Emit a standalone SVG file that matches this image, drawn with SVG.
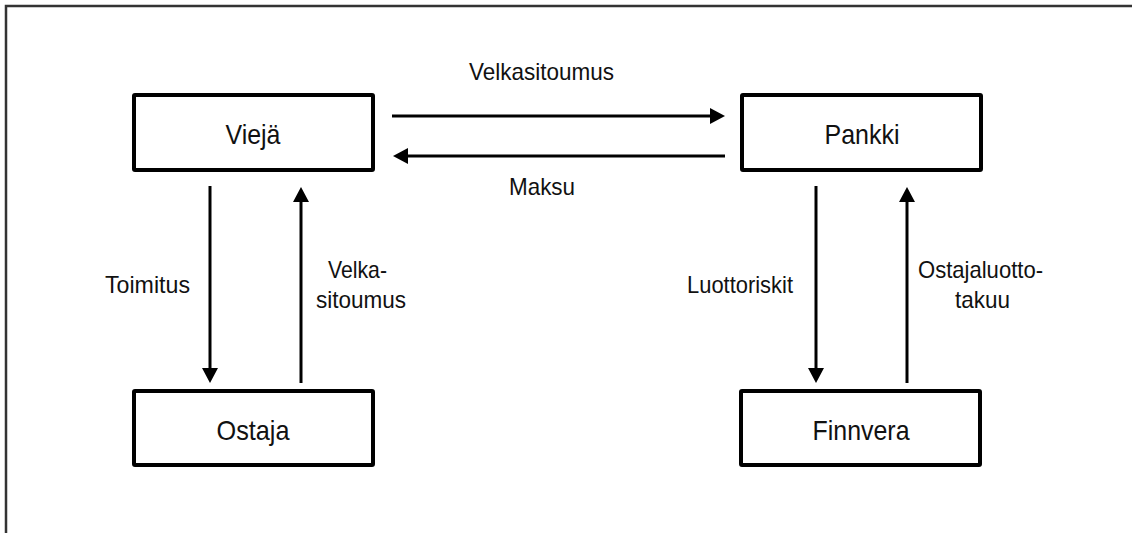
<svg xmlns="http://www.w3.org/2000/svg" width="1132" height="533" viewBox="0 0 1132 533">
<style>
.box{fill:#fff;stroke:#000;stroke-width:4}
.node{font-family:"Liberation Sans",Arial,sans-serif;font-size:28px;fill:#111;text-anchor:middle}
.lbl{font-family:"Liberation Sans",Arial,sans-serif;font-size:24px;fill:#111}
.edge{stroke:#000;stroke-width:3;fill:none;marker-end:url(#ah)}
.frame{stroke:#333;stroke-width:2.5;fill:none}
</style>
<defs>
<marker id="ah" viewBox="0 0 15 16" refX="5" refY="8" markerWidth="15" markerHeight="16" markerUnits="userSpaceOnUse" orient="auto">
<path d="M0,0 L15,8 L0,16 Z" fill="#000"/>
</marker>
</defs>
<rect width="1132" height="533" fill="#fff"/>
<g id="frame">
<path class="frame" d="M6,533 V6 H1132"/>
</g>
<g id="connectors">
<line class="edge" x1="392" y1="116" x2="715" y2="116"/>
<line class="edge" x1="725" y1="156" x2="403" y2="156"/>
<line class="edge" x1="210" y1="186" x2="210" y2="373"/>
<line class="edge" x1="301" y1="383" x2="301" y2="197"/>
<line class="edge" x1="816" y1="186" x2="816" y2="373"/>
<line class="edge" x1="907" y1="383" x2="907" y2="197"/>
<text class="lbl" x="469" y="80" textLength="145" lengthAdjust="spacingAndGlyphs">Velkasitoumus</text>
<text class="lbl" x="509" y="195" textLength="66" lengthAdjust="spacingAndGlyphs">Maksu</text>
<text class="lbl" x="105" y="293" textLength="85" lengthAdjust="spacingAndGlyphs">Toimitus</text>
<text class="lbl" x="328" y="278" textLength="59" lengthAdjust="spacingAndGlyphs">Velka-</text>
<text class="lbl" x="316" y="308" textLength="90" lengthAdjust="spacingAndGlyphs">sitoumus</text>
<text class="lbl" x="687" y="293" textLength="106" lengthAdjust="spacingAndGlyphs">Luottoriskit</text>
<text class="lbl" x="918" y="278" textLength="125" lengthAdjust="spacingAndGlyphs">Ostajaluotto-</text>
<text class="lbl" x="955" y="308" textLength="55" lengthAdjust="spacingAndGlyphs">takuu</text>
</g>
<g id="viejä">
<rect class="box" x="134" y="95" width="239" height="75" rx="1"/>
<text class="node" x="253" y="144" textLength="55" lengthAdjust="spacingAndGlyphs">Viejä</text>
</g>
<g id="pankki">
<rect class="box" x="742" y="95" width="239" height="75" rx="1"/>
<text class="node" x="862" y="144" textLength="75" lengthAdjust="spacingAndGlyphs">Pankki</text>
</g>
<g id="ostaja">
<rect class="box" x="134" y="391" width="239" height="74" rx="1"/>
<text class="node" x="253" y="440" textLength="73" lengthAdjust="spacingAndGlyphs">Ostaja</text>
</g>
<g id="finnvera">
<rect class="box" x="741" y="391" width="239" height="74" rx="1"/>
<text class="node" x="861" y="440" textLength="97" lengthAdjust="spacingAndGlyphs">Finnvera</text>
</g>
</svg>
